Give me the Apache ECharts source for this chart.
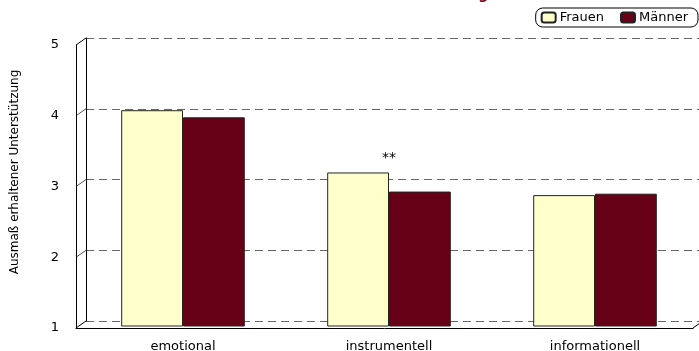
<!DOCTYPE html>
<html>
<head>
<meta charset="utf-8">
<script src="https://cdn.jsdelivr.net/npm/echarts@6/dist/echarts.min.js"></script>
<style>
  html, body { margin: 0; padding: 0; background: #fff; }
  #chart { width: 699px; height: 351px; }
</style>
</head>
<body>
<div id="chart"></div>
<script>
// data
const categories = ['emotional', 'instrumentell', 'informationell']
const frauen = [4.05, 3.17, 2.85]
const maenner = [3.95, 2.90, 2.87]
const signif = ['', '**', '']
const yTicks = [1, 2, 3, 4, 5]

const font = 'DejaVu Sans, Verdana, sans-serif'
const depthX = 10, depthY = 7
const backLeft = 86

const myChart = echarts.init(document.getElementById('chart'))

const option = {
  animation: false,
  backgroundColor: '#fff',
  textStyle: { fontFamily: font },
  title: {
    text: 'Ausmaß erhaltener Unterstützung',
    left: 213,
    top: -17,
    textStyle: { fontSize: 14, fontWeight: 'bold', color: '#800020', fontFamily: font }
  },
  legend: {
    orient: 'horizontal',
    right: 1,
    top: 8,
    padding: [3, 10, 3, 5],
    itemWidth: 14,
    itemHeight: 10,
    itemGap: 16,
    borderColor: '#000',
    borderWidth: 1,
    borderRadius: 7,
    textStyle: { fontSize: 13, color: '#000', fontFamily: font, padding: [0, 0, 0, -1] },
    data: ['Frauen', 'Männer']
  },
  grid: [
    // back wall
    { left: backLeft, right: 0, top: 38, bottom: 30, outerBoundsMode: 'none' },
    // front edge
    { left: backLeft - depthX, right: 6, top: 45, bottom: 23, outerBoundsMode: 'none' },
    // bars
    { left: 80, right: 1, top: 43, bottom: 25, outerBoundsMode: 'none' }
  ],
  xAxis: [
    { gridIndex: 0, type: 'category', data: categories, show: false },
    {
      gridIndex: 1, type: 'category', data: categories,
      axisLine: { lineStyle: { color: '#000', width: 1 } },
      axisTick: { show: false }, axisLabel: { show: false }
    },
    {
      gridIndex: 2, type: 'category', data: categories,
      axisLine: { show: false }, axisTick: { show: false },
      axisLabel: { fontSize: 13, color: '#000', margin: 14, fontFamily: font }
    }
  ],
  yAxis: [
    {
      gridIndex: 0, type: 'value', min: 1, max: 5, interval: 1,
      axisLine: { show: true, lineStyle: { color: '#000' } },
      axisTick: { show: false }, axisLabel: { show: false },
      splitLine: { show: true, lineStyle: { color: '#666', type: [8, 5], width: 1 } }
    },
    {
      gridIndex: 1, type: 'value', min: 1, max: 5, interval: 1,
      axisLine: { show: true, lineStyle: { color: '#000' } },
      axisTick: { show: false },
      splitLine: { show: false },
      axisLabel: { fontSize: 13, color: '#000', margin: 17, fontFamily: font }
    },
    { gridIndex: 2, type: 'value', min: 1, max: 5, show: false, splitLine: { show: false } }
  ],
  series: [
    {
      name: 'Frauen', type: 'bar', xAxisIndex: 2, yAxisIndex: 2,
      barGap: 0, barCategoryGap: '40%',
      itemStyle: { color: '#ffffcc', borderColor: '#222', borderWidth: 1 },
      data: frauen.map((v, i) => ({
        value: v,
        label: {
          show: signif[i] !== '', formatter: signif[i], position: 'top',
          offset: [31, -2], fontSize: 14, color: '#000', fontFamily: font
        }
      }))
    },
    {
      name: 'Männer', type: 'bar', xAxisIndex: 2, yAxisIndex: 2,
      barGap: 0, barCategoryGap: '40%',
      itemStyle: { color: '#660016', borderColor: '#222', borderWidth: 1 },
      data: maenner
    }
  ]
}
myChart.setOption(option)

// side wall edges and floor corner, placed from the back wall's scale
const lines = yTicks.map(v => {
  const y = myChart.convertToPixel({ yAxisIndex: 0 }, v)
  return {
    type: 'line',
    shape: { x1: backLeft, y1: y, x2: backLeft - depthX, y2: y + depthY },
    style: { stroke: v === 1 || v === 5 ? '#000' : '#555', lineWidth: 1 }
  }
})
const floorY = myChart.convertToPixel({ yAxisIndex: 1 }, 1)
lines.push({
  type: 'line',
  shape: { x1: 693, y1: floorY, x2: 693 + depthX, y2: floorY - depthY },
  style: { stroke: '#000', lineWidth: 1 }
})
lines.push({
  type: 'text', x: 15, y: 172, rotation: Math.PI / 2,
  style: {
    text: 'Ausmaß erhaltener Unterstützung', fontSize: 12, fill: '#000',
    fontFamily: font, align: 'center', verticalAlign: 'middle'
  }
})
myChart.setOption({ graphic: lines })
</script>
</body>
</html>
